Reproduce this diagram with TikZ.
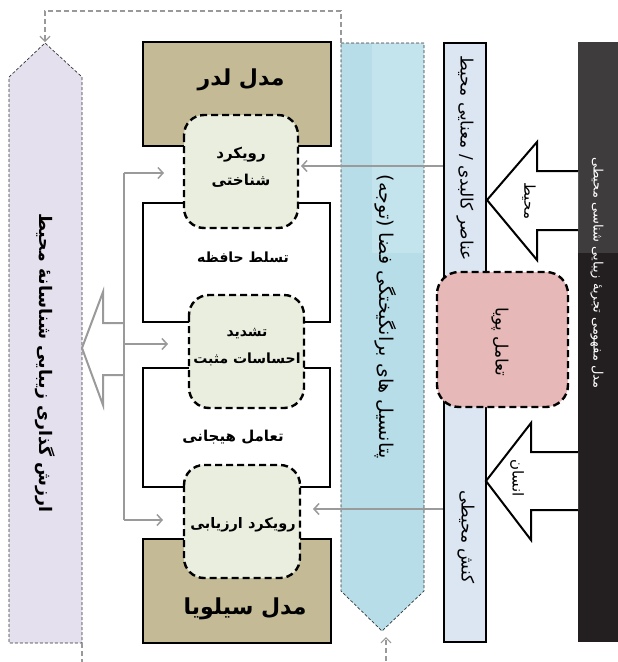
\documentclass[tikz,border=0pt]{standalone}
\usepackage{fontspec}
\usetikzlibrary{arrows.meta,calc}
\TeXXeTstate=1
\newfontfamily\arabicfont[Script=Arabic]{DejaVu Sans}
\newcommand\rtl[1]{{\arabicfont\beginR #1\endR}}
\definecolor{tanfill}{HTML}{C4BB96}
\definecolor{greenfill}{HTML}{EAEEDF}
\definecolor{purplefill}{HTML}{E5E0EE}
\definecolor{bluefill}{HTML}{B7DDE8}
\definecolor{bluelight}{HTML}{C4E4ED}
\definecolor{barfill}{HTML}{DCE6F2}
\definecolor{pinkfill}{HTML}{E6B8B7}
\definecolor{darkfill}{HTML}{231F20}
\definecolor{darklight}{HTML}{3E3C3D}
\definecolor{graylink}{HTML}{9A9A9A}
\tikzset{
  tanbox/.style={draw=black,line width=2.2pt,fill=tanfill},
  framebox/.style={draw=black,line width=2.2pt,fill=white},
  greenbox/.style={draw=black,line width=2.4pt,dash pattern=on 7pt off 4pt,fill=greenfill,rounded corners=20pt},
  pinkbox/.style={draw=black,line width=2.4pt,dash pattern=on 7pt off 4pt,fill=pinkfill,rounded corners=22pt},
  bigarrow/.style={draw=black!80,line width=0.7pt,dash pattern=on 3pt off 2pt},
  hollow/.style={draw=black,line width=2pt,fill=white,line join=miter},
  grayhollow/.style={draw=graylink,line width=2pt,fill=white,line join=miter},
  graylinkline/.style={draw=graylink,line width=1.5pt},
  grayarrow/.style={draw=graylink,line width=1.5pt,-{Straight Barb[length=5pt,width=11pt,line width=1.5pt]}},
  dashlink/.style={draw=black!40,line width=1.2pt,dash pattern=on 5pt off 3pt},
  vlabel/.style={rotate=-90,inner sep=0pt},
  lbl/.style={inner sep=0pt,align=center},
}
\begin{document}
\begin{tikzpicture}[x=1pt,y=-1pt]
\useasboundingbox (0,0) rectangle (618,662);
\clip (0,0) rectangle (618,662);

% blue down arrow
\path[fill=bluefill] (341,43) -- (424,43) -- (424,591) -- (382,631) -- (341,591) -- cycle;
\path[fill=bluelight] (372,43) rectangle (424,253);
\draw[bigarrow] (341,43) -- (424,43) -- (424,591) -- (382,631) -- (341,591) -- cycle;
\coordinate (bluetop) at (341,43);
\coordinate (bluetip) at (386,637);
\node[vlabel,font=\fontsize{19}{21}\selectfont] (potential) at (386,317) {\rtl{پتانسیل های برانگیختگی فضا (توجه)}};

% purple up arrow
\draw[bigarrow,fill=purplefill] (9,77) -- (45,43) -- (82,77) -- (82,643) -- (9,643) -- cycle;
\coordinate (purpletip) at (45,42);
\coordinate (purplebot) at (82,643);
\node[vlabel,font=\fontsize{17.3}{19}\selectfont\bfseries] (valuation) at (45,363) {\rtl{ارزش گذاری زیبایی شناسانهٔ محیط}};

% dashed feedback connectors
\draw[dashlink,-{Straight Barb[length=5pt,width=10pt,line width=1.2pt]}] (bluetop) |- (45,11) -- (purpletip);
\draw[dashlink,-{Straight Barb[length=5pt,width=10pt,line width=1.2pt]}] (purplebot) -- (82,680) -| (bluetip);

% tan model boxes
\node[tanbox,minimum width=188pt,minimum height=104pt] (lder) at (237,94) {};
\node[font=\fontsize{22}{24}\selectfont\bfseries] (lderlbl) at (241,80) {\rtl{مدل لدر}};
\node[tanbox,minimum width=188pt,minimum height=104pt] (silvia) at (237,591) {};
\node[font=\fontsize{22}{24}\selectfont\bfseries] (silvialbl) at (245,609) {\rtl{مدل سیلویا}};

% white frames
\draw[framebox] (143,203) rectangle (330,322);
\draw[framebox] (143,368) rectangle (330,487);
\node[lbl,font=\fontsize{14}{16}\selectfont\bfseries] (memory) at (243,257) {\rtl{تسلط حافظه}};
\node[lbl,font=\fontsize{15}{17}\selectfont\bfseries] (emotion) at (233,437) {\rtl{تعامل هیجانی}};

% green rounded boxes
\draw[greenbox] (184,115) rectangle (298,228);
\node[lbl,font=\fontsize{15}{27}\selectfont\bfseries] (cog) at (241,167) {\rtl{رویکرد}\\\rtl{شناختی}};
\draw[greenbox] (189,295) rectangle (304,408);
\node[lbl,font=\fontsize{14}{27}\selectfont\bfseries] (pos) at (247,347) {\rtl{تشدید}\\\rtl{احساسات مثبت}};
\draw[greenbox] (184,465) rectangle (300,578);
\node[lbl,font=\fontsize{14.5}{17}\selectfont\bfseries] (eval) at (243,525) {\rtl{رویکرد ارزیابی}};

% left gray connectors
\draw[grayhollow] (124,323) -- (103,323) -- (103,292) -- (82,348) -- (103,405) -- (103,375) -- (124,375);
\draw[graylinkline] (124,173) -- (124,520);
\coordinate (g1) at (124,173);
\coordinate (g2) at (125,344);
\coordinate (g3) at (124,520);
\draw[grayarrow] (g1) -- (164,173);
\draw[grayarrow] (g2) -- (168,344);
\draw[grayarrow] (g3) -- (163,520);

% right side bar
\draw[draw=black,line width=2.2pt,fill=barfill] (444,43) rectangle (486,642);
\coordinate (r1) at (443,166);
\coordinate (r2) at (443,509);
\draw[grayarrow] (r1) -- (301,166);
\draw[grayarrow] (r2) -- (313,509);
\node[vlabel,font=\fontsize{17}{19}\selectfont] (elements) at (465,158) {\rtl{عناصر کالبدی / معنایی محیط}};
\node[vlabel,font=\fontsize{17}{19}\selectfont] (action) at (466,537) {\rtl{کنش محیطی}};

% pink box
\draw[pinkbox] (437,272) rectangle (568,407);
\node[vlabel,font=\fontsize{17}{19}\selectfont] (dyn) at (500,342) {\rtl{تعامل پویا}};

% black bar
\path[fill=darkfill] (578,42) rectangle (625,642);
\path[fill=darklight] (578,42) rectangle (625,253);
\node[vlabel,text=white,font=\fontsize{13}{15}\selectfont] (concept) at (597,273) {\rtl{مدل مفهومی تجربهٔ زیبایی شناسی محیطی}};

% hollow black arrows
\draw[hollow] (578,171) -- (537,171) -- (537,142) -- (487,200) -- (537,260) -- (537,230) -- (578,230);
\node[vlabel,font=\fontsize{15}{17}\selectfont] (env) at (529,201) {\rtl{محیط}};
\draw[hollow] (578,452) -- (531,452) -- (531,423) -- (486,481) -- (531,540) -- (531,510) -- (578,510);
\node[vlabel,font=\fontsize{15}{17}\selectfont] (human) at (517,478) {\rtl{انسان}};
\end{tikzpicture}
\end{document}
